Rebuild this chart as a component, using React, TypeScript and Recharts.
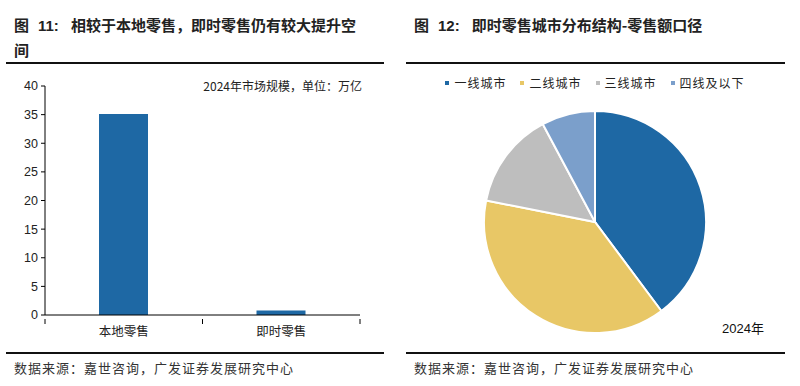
import { BarChart, Bar, XAxis, YAxis, PieChart, Pie, Cell } from 'recharts';

// bar chart data: 2024 market size, 万亿
const barCategories = ['本地零售', '即时零售'];
const barValues = [35.1, 0.8];
const yTicks = [0, 5, 10, 15, 20, 25, 30, 35, 40];

// pie: city tier split of instant retail sales
const pieLabels = ['一线城市', '二线城市', '三线城市', '四线及以下'];
const pieValues = [39.8, 38.3, 14.1, 7.8];
const pieColors = ['#1e68a4', '#e8c766', '#bebebe', '#7b9fcb'];

const barData = barCategories.map((name, i) => ({ name, value: barValues[i] }));
const pieData = pieLabels.map((name, i) => ({ name, value: pieValues[i] }));

const cjk = '"Noto Sans CJK SC", "Noto Sans", sans-serif';
const latin = '"Liberation Sans", Arial, sans-serif';

const CategoryTick = (props: any) => {
  const { x, y, payload, index, visibleTicksCount } = props;
  const half = payload?.offset || 78.75;
  const isLast = index === (visibleTicksCount ?? 2) - 1;
  return (
    <g>
      <line x1={x - half} y1={y - 4} x2={x - half} y2={y + 1} stroke="#000" />
      {isLast && <line x1={x + half} y1={y - 4} x2={x + half} y2={y + 1} stroke="#000" />}
      <text x={x} y={y + 13} textAnchor="middle" fontSize={12.5} fill="#222" fontFamily={cjk}>
        {payload.value}
      </text>
    </g>
  );
};

const PieLegend = () => (
  <div style={{ display: 'flex', justifyContent: 'center', gap: 14, fontFamily: cjk, fontSize: 12, color: '#222' }}>
    {pieLabels.map((name, i) => (
      <div key={name} style={{ display: 'flex', alignItems: 'center' }}>
        <span style={{ width: 4, height: 4, background: pieColors[i], marginRight: 5, display: 'inline-block' }} />
        <span style={{ letterSpacing: 1 }}>{name}</span>
      </div>
    ))}
  </div>
);

const rule = (left: number, top: number, width: number) => (
  <div style={{ position: 'absolute', left, top, width, height: 2, background: '#111' }} />
);

export default function App() {
  return (
    <div style={{ position: 'absolute', left: 0, top: 0, width: 800, height: 386, background: '#fff', overflow: 'hidden' }}>
      {/* titles */}
      <div style={{ position: 'absolute', left: 14, top: 13, fontFamily: cjk, fontWeight: 700, fontSize: 15, color: '#222', lineHeight: '24px' }}>
        <div>
          图<span style={{ fontFamily: latin, marginLeft: 9 }}>11:</span>
          <span style={{ marginLeft: 12 }}>相较于本地零售，即时零售仍有较大提升空</span>
        </div>
        <div>间</div>
      </div>
      <div style={{ position: 'absolute', left: 414, top: 13, fontFamily: cjk, fontWeight: 700, fontSize: 15, color: '#222', lineHeight: '24px' }}>
        图<span style={{ fontFamily: latin, marginLeft: 9 }}>12:</span>
        <span style={{ marginLeft: 12 }}>即时零售城市分布结构-零售额口径</span>
      </div>
      {rule(6, 62, 378)}
      {rule(406, 62, 379)}

      {/* left bar chart */}
      <div style={{ position: 'absolute', left: 0, top: 70 }}>
        <BarChart width={380} height={270} data={barData} margin={{ top: 16, right: 20, left: 0, bottom: 0 }}>
          <XAxis
            dataKey="name"
            height={25}
            axisLine={{ stroke: '#000' }}
            tickLine={false}
            interval={0}
            tick={<CategoryTick />}
          />
          <YAxis
            width={45}
            domain={[0, 40]}
            ticks={yTicks}
            axisLine={{ stroke: '#000' }}
            tickLine={{ stroke: '#000' }}
            tickSize={4}
            tickMargin={3}
            tick={{ fill: '#222', fontSize: 12.5, fontFamily: latin }}
          />
          <Bar dataKey="value" fill="#1e68a4" barSize={49} isAnimationActive={false} />
        </BarChart>
      </div>
      <div style={{ position: 'absolute', right: 438, top: 77, fontFamily: cjk, fontSize: 12, color: '#222' }}>
        2024年市场规模，单位：万亿
      </div>

      {/* right pie chart */}
      <div style={{ position: 'absolute', left: 405, top: 74, width: 380 }}>
        <PieLegend />
      </div>
      <div style={{ position: 'absolute', left: 405, top: 60 }}>
        <PieChart width={380} height={290} margin={{ top: 0, right: 0, bottom: 0, left: 0 }}>
          <Pie
            data={pieData}
            dataKey="value"
            nameKey="name"
            cx={190}
            cy={162}
            outerRadius={111}
            startAngle={90}
            endAngle={-270}
            stroke="#fff"
            strokeWidth={2}
            isAnimationActive={false}
          >
            {pieData.map((d, i) => (
              <Cell key={d.name} fill={pieColors[i]} />
            ))}
          </Pie>
        </PieChart>
      </div>
      <div style={{ position: 'absolute', left: 722, top: 318, fontFamily: latin, fontSize: 13, color: '#111' }}>
        2024<span style={{ fontFamily: cjk }}>年</span>
      </div>

      {/* sources */}
      {rule(6, 352, 378)}
      {rule(406, 352, 379)}
      <div style={{ position: 'absolute', left: 14, top: 358, fontFamily: cjk, fontSize: 13, letterSpacing: 1, color: '#333' }}>
        数据来源：嘉世咨询，广发证券发展研究中心
      </div>
      <div style={{ position: 'absolute', left: 414, top: 358, fontFamily: cjk, fontSize: 13, letterSpacing: 1, color: '#333' }}>
        数据来源：嘉世咨询，广发证券发展研究中心
      </div>
    </div>
  );
}
